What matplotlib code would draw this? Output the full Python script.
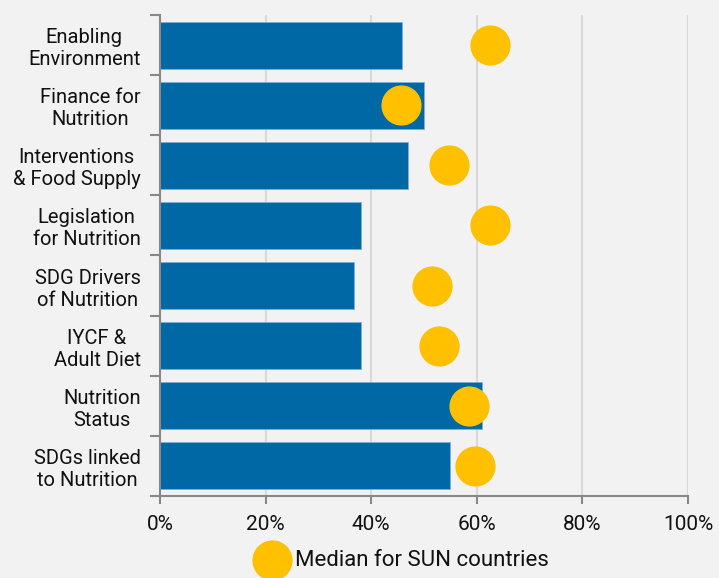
import numpy as np
import matplotlib.pyplot as plt
from matplotlib.ticker import FixedLocator, PercentFormatter

categories = ["Enabling\nEnvironment", "Finance for\nNutrition", "Interventions\n& Food Supply",
              "Legislation\nfor Nutrition", "SDG Drivers\nof Nutrition", "IYCF &\nAdult Diet",
              "Nutrition\nStatus", "SDGs linked\nto Nutrition"]
country_score = [45.8, 50.0, 47.0, 38.0, 36.8, 38.0, 61.0, 55.0]
sun_median = [62.4, 45.6, 54.7, 62.4, 51.5, 52.8, 58.6, 59.7]

plt.rcParams['font.family'] = ['Roboto', 'DejaVu Sans']
bg = '#f2f2f2'
fig = plt.figure(figsize=(7.19, 5.78), dpi=100, facecolor=bg)
ax = fig.add_axes([0.2225, 0.142, 0.7345, 0.832], facecolor=bg)

y = np.arange(len(categories))[::-1]
ax.barh(y, country_score, height=0.78, color='#0069a5', edgecolor='#7fb0d6', linewidth=0.6, zorder=2)
ax.scatter(sun_median, y, s=780, color='#ffc000', zorder=3, label='Median for SUN countries')

ax.set_xlim(0, 100)
ax.set_ylim(-0.5, len(categories) - 0.5)
ax.set_xticks(np.arange(0, 101, 20))
ax.xaxis.set_major_formatter(PercentFormatter(decimals=0))
ax.set_yticks(y)
ax.set_yticklabels(categories, multialignment='center', color='#111111')
ax.yaxis.set_minor_locator(FixedLocator(np.arange(-0.5, len(categories), 1)))
ax.tick_params(axis='y', which='major', length=0, pad=14, labelsize=14.5)
ax.tick_params(axis='y', which='minor', length=7, width=1.5, color='#888888')
ax.tick_params(axis='x', length=6, width=1.5, color='#888888', labelsize=15, pad=8, labelcolor='#111111')

ax.grid(axis='x', color='#d9d9d9', linewidth=1.5, zorder=0)
ax.set_axisbelow(True)
for s in ['top', 'right']:
    ax.spines[s].set_visible(False)
for s in ['left', 'bottom']:
    ax.spines[s].set_color('#888888')
    ax.spines[s].set_linewidth(1.5)

leg = fig.legend(loc='lower center', bbox_to_anchor=(0.555, -0.022), frameon=False, fontsize=16,
                 handletextpad=0.05, markerscale=1.0)
for t in leg.get_texts():
    t.set_color('#111111')

fig.savefig('out.png', dpi=100, facecolor=bg)
